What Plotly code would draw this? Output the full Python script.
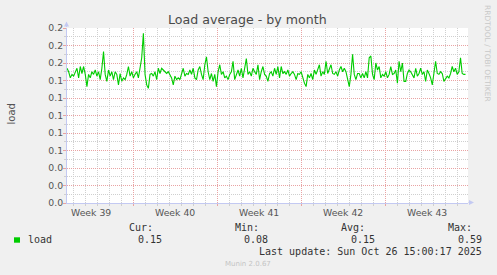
import pandas as pd
import plotly.graph_objects as go

# ---------------- data ----------------
load_part1 = [0.154, 0.150, 0.143, 0.147, 0.145, 0.150, 0.154, 0.143, 0.156, 0.148, 0.156, 0.147, 0.133, 0.147,
              0.143, 0.150, 0.147, 0.152, 0.145, 0.150, 0.141, 0.154, 0.173, 0.147, 0.139, 0.152, 0.145, 0.150,
              0.141, 0.150, 0.147, 0.135, 0.148, 0.139, 0.143, 0.141, 0.147, 0.156, 0.145, 0.150, 0.143, 0.147,
              0.150, 0.143, 0.154, 0.166, 0.194, 0.147, 0.135, 0.131, 0.147, 0.148, 0.145, 0.150, 0.141, 0.154,
              0.148, 0.154, 0.152, 0.150, 0.148, 0.150]
load_part2 = [0.147, 0.143, 0.135, 0.145, 0.141, 0.143, 0.141, 0.147, 0.154, 0.145, 0.148, 0.147, 0.152, 0.147,
              0.154, 0.143, 0.141, 0.152, 0.156, 0.147, 0.141, 0.158, 0.167, 0.150, 0.141, 0.148, 0.139, 0.147,
              0.133, 0.150, 0.158, 0.147, 0.150, 0.143, 0.145, 0.141, 0.147, 0.150, 0.162, 0.141, 0.147, 0.152,
              0.145, 0.154, 0.143, 0.152, 0.165, 0.147, 0.150, 0.145, 0.154, 0.150, 0.147, 0.158, 0.141, 0.150,
              0.156, 0.147, 0.145, 0.139]
load_part3 = [0.148, 0.150, 0.145, 0.154, 0.147, 0.156, 0.143, 0.156, 0.148, 0.150, 0.147, 0.152, 0.145, 0.148,
              0.150, 0.147, 0.141, 0.148, 0.147, 0.150, 0.143, 0.137, 0.133, 0.147, 0.143, 0.148, 0.141, 0.152,
              0.147, 0.154, 0.158, 0.145, 0.150, 0.147, 0.162, 0.148, 0.154, 0.158, 0.148, 0.147, 0.150, 0.145,
              0.152, 0.156, 0.150, 0.154, 0.150, 0.139, 0.133, 0.147, 0.170, 0.147, 0.141, 0.148, 0.148, 0.143,
              0.148, 0.143, 0.150]
load_part4 = [0.143, 0.166, 0.168, 0.147, 0.141, 0.160, 0.152, 0.156, 0.143, 0.147, 0.145, 0.150, 0.143, 0.147,
              0.156, 0.147, 0.148, 0.152, 0.137, 0.162, 0.150, 0.160, 0.139, 0.139, 0.148, 0.152, 0.150, 0.147,
              0.143, 0.154, 0.145, 0.148, 0.154, 0.147, 0.150, 0.139, 0.152, 0.148, 0.143, 0.135, 0.148, 0.162,
              0.148, 0.147, 0.150, 0.148, 0.139, 0.143, 0.145, 0.143, 0.148, 0.156, 0.150, 0.154, 0.147, 0.150,
              0.166, 0.148, 0.147, 0.147]
load = load_part1 + load_part2 + load_part3 + load_part4

week_starts = ["2025-09-22", "2025-09-29", "2025-10-06", "2025-10-13", "2025-10-20"]
week_labels = ["Week 39", "Week 40", "Week 41", "Week 42", "Week 43"]

legend_name = "load"
stat_cur, stat_min, stat_avg, stat_max = "0.15", "0.08", "0.15", "0.59"
last_update = "Last update: Sun Oct 26 15:00:17 2025"

# ---------------- time frame ----------------
t_start = pd.Timestamp("2025-09-23 11:30")
t_end = t_start + pd.Timedelta(hours=802)
data_end = t_start + pd.Timedelta(hours=797)
times = pd.date_range(t_start, data_end, periods=len(load))
week_centers = [pd.Timestamp(w) + pd.Timedelta(hours=84) for w in week_starts]

# ---------------- geometry helpers ----------------
W, H = 497, 275
PL, PR, PT, PB = 67, 468, 28, 203


def px(x):
    return (x - PL) / (PR - PL)


def py(y):
    return (PB - y) / (PB - PT)


MAJOR = "#e9a3a3"
MINOR = "#cfcfcf"
AXIS = "#c3c9f2"
MONO = "DejaVu Sans Mono"

fig = go.Figure()
fig.add_trace(go.Scatter(x=times, y=load, mode="lines",
                         line=dict(color="#00cc00", width=1.1), hoverinfo="skip", showlegend=False))

fig.update_layout(
    width=W, height=H,
    margin=dict(l=PL, r=W - PR, t=PT, b=H - PB, pad=0),
    paper_bgcolor="#f0f0f0", plot_bgcolor="#ffffff",
    font=dict(family="DejaVu Sans", size=9, color="#555555"),
    showlegend=False,
)

fig.update_xaxes(
    type="date", range=[t_start, t_end],
    showline=True, linecolor=AXIS, linewidth=1,
    showgrid=True, gridcolor=MAJOR, griddash="1px,1px", gridwidth=1,
    tick0=week_starts[0], dtick=7 * 86400000,
    ticks="outside", ticklen=2, tickcolor=MAJOR,
    showticklabels=False, zeroline=False,
    minor=dict(dtick=86400000, tick0=week_starts[0], showgrid=True, gridcolor=MINOR,
               griddash="1px,1px", ticks="outside", ticklen=2, tickcolor=MINOR),
)
fig.update_yaxes(
    range=[0, 0.2], tick0=0, dtick=0.02, tickformat=".1f",
    showline=True, linecolor=AXIS, linewidth=1,
    showgrid=True, gridcolor=MAJOR, griddash="1px,1px", gridwidth=1,
    ticks="outside", ticklen=3, tickcolor=MAJOR, ticklabelstandoff=-2,
    tickfont=dict(size=9.3, color="#555555"), zeroline=False,
    minor=dict(dtick=0.01, showgrid=True, gridcolor=MINOR, griddash="1px,1px",
               ticks="outside", ticklen=2, tickcolor=MINOR),
)

ann = []
# week labels
for c, lab in zip(week_centers, week_labels):
    ann.append(dict(x=c, xref="x", y=py(212.7), yref="paper", text=lab, showarrow=False,
                    xanchor="center", yanchor="middle", borderpad=0,
                    font=dict(family="DejaVu Sans", size=9.3, color="#555555")))
# title
ann.append(dict(x=px(247.8), y=py(20), xref="paper", yref="paper", text="Load average - by month",
                showarrow=False, xanchor="center", yanchor="middle", borderpad=0,
                font=dict(family="DejaVu Sans", size=12.6, color="#4a4a4a")))
# y title
ann.append(dict(x=px(10.5), y=py(114), xref="paper", yref="paper", text="load", textangle=-90,
                showarrow=False, xanchor="center", yanchor="middle", borderpad=0,
                font=dict(family="DejaVu Sans", size=10, color="#555555")))
# watermark
ann.append(dict(x=px(488), y=py(53), xref="paper", yref="paper", text="RRDTOOL / TOBI OETIKER",
                textangle=90, showarrow=False, xanchor="center", yanchor="middle", borderpad=0,
                font=dict(family="DejaVu Sans", size=7.5, color="#c8c8c8")))
# axis arrows
ann.append(dict(x=px(66.5), y=py(21.5), xref="paper", yref="paper", ax=0, ay=7, axref="pixel", ayref="pixel",
                text="", showarrow=True, arrowhead=2, arrowsize=1, arrowwidth=1, arrowcolor=AXIS))
ann.append(dict(x=px(474), y=py(202.5), xref="paper", yref="paper", ax=-7, ay=0, axref="pixel", ayref="pixel",
                text="", showarrow=True, arrowhead=2, arrowsize=1, arrowwidth=1, arrowcolor=AXIS))


def mono(text, x, y, anchor, color="#333333", size=10, family=MONO):
    return dict(x=px(x), y=py(y), xref="paper", yref="paper", text=text, showarrow=False,
                xanchor=anchor, yanchor="middle", borderpad=0,
                font=dict(family=family, size=size, color=color))


ann += [
    mono(legend_name, 26.7, 239.5, "left"),
    mono("Cur:", 127.7, 227.7, "left"),
    mono(stat_cur, 162.7, 239.5, "right"),
    mono("Min:", 234.0, 227.7, "left"),
    mono(stat_min, 269.0, 239.5, "right"),
    mono("Avg:", 340.0, 227.7, "left"),
    mono(stat_avg, 375.7, 239.5, "right"),
    mono("Max:", 446.7, 227.7, "left"),
    mono(stat_max, 482.7, 239.5, "right"),
    mono(last_update, 482.7, 251.7, "right"),
    mono("Munin 2.0.67", 247.5, 263.7, "center", color="#c4c4c4", size=7, family="DejaVu Sans"),
]
fig.update_layout(annotations=ann)

fig.add_shape(type="rect", xref="paper", yref="paper",
              x0=px(14), x1=px(20), y0=py(242.7), y1=py(237.3),
              fillcolor="#00cc00", line=dict(width=0))

fig.write_html("out.html")
